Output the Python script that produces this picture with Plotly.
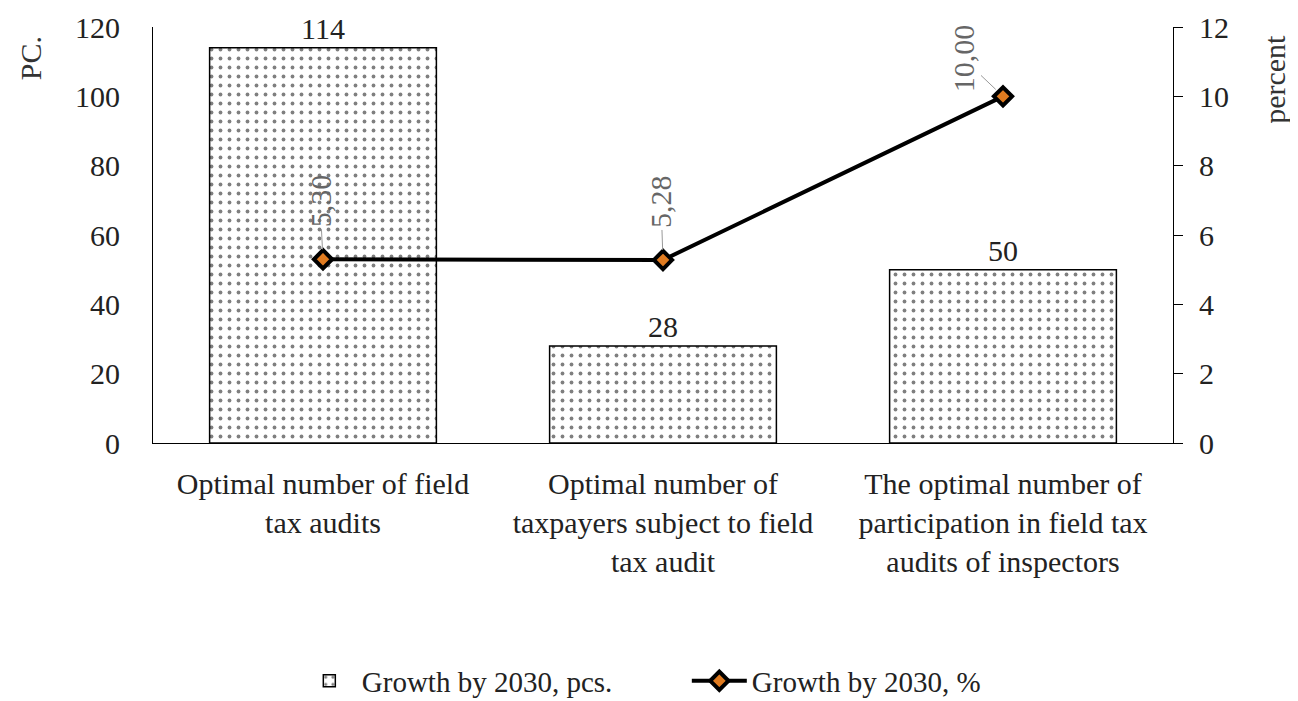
import plotly.graph_objects as go

categories = ["Optimal number of field<br>tax audits",
              "Optimal number of<br>taxpayers subject to field<br>tax audit",
              "The optimal number of<br>participation in field tax<br>audits of inspectors"]
growth_pcs = [114, 28, 50]
growth_pct = [5.30, 5.28, 10.00]
left_ticks = [0, 20, 40, 60, 80, 100, 120]
right_ticks = [0, 2, 4, 6, 8, 10, 12]

FONT = "Liberation Serif, Times New Roman, serif"
FS = 30

fig = go.Figure()
fig.add_trace(go.Bar(
    x=categories, y=growth_pcs, name="Growth by 2030, pcs.",
    width=0.667,
    marker=dict(color="white", line=dict(color="black", width=1.5),
                pattern=dict(shape=".", fgcolor="black", bgcolor="white", size=9, solidity=0.14)),
    text=[str(v) for v in growth_pcs], textposition="outside",
    textfont=dict(family=FONT, size=FS, color="#222"), cliponaxis=False,
))
fig.add_trace(go.Scatter(
    x=categories, y=growth_pct, name="Growth by 2030, %", yaxis="y2",
    mode="lines+markers",
    line=dict(color="black", width=4),
    marker=dict(symbol="diamond", size=14, color="#e07b20", line=dict(color="black", width=4)),
))

offsets = [(-3, -58), (-2, -58), (-40, -38)]
for c, v, (ax, ay) in zip(categories, growth_pct, offsets):
    fig.add_annotation(x=c, y=v, yref="y2", text=f"{v:.2f}".replace(".", ","),
                       textangle=-90, showarrow=True, arrowhead=0, arrowwidth=1,
                       arrowcolor="#999", ax=ax, ay=ay, standoff=10,
                       font=dict(family=FONT, size=FS, color="#666"))

fig.add_annotation(xref="paper", yref="paper", x=-0.1206, y=0.925, text="PC.", textangle=-90,
                   xanchor="center", yanchor="middle",
                   showarrow=False, font=dict(family=FONT, size=FS, color="#333"))
fig.add_annotation(xref="paper", yref="paper", x=1.1, y=0.873, text="percent", textangle=-90,
                   xanchor="center", yanchor="middle",
                   showarrow=False, font=dict(family=FONT, size=FS, color="#333"))

fig.update_layout(
    width=1290, height=693,
    margin=dict(l=145, r=125, t=19, b=258, autoexpand=False),
    paper_bgcolor="white", plot_bgcolor="white",
    font=dict(family=FONT, size=FS, color="#222"),
    bargap=0.333,
    xaxis=dict(showline=True, linecolor="black", linewidth=1.2, ticks="",
               ticklabelstandoff=14, automargin=False,
               tickfont=dict(family=FONT, size=FS, color="#222")),
    yaxis=dict(range=[0, 120], tickvals=left_ticks, showgrid=False, showline=True,
               linecolor="black", linewidth=1.2, ticks="", ticklabelstandoff=26,
               automargin=False,
               tickfont=dict(family=FONT, size=FS, color="#222"), zeroline=False),
    yaxis2=dict(range=[0, 12], tickvals=right_ticks, overlaying="y", side="right",
                showgrid=False, showline=True, linecolor="black", linewidth=1.2,
                ticks="outside", ticklen=9, tickcolor="black", ticklabelstandoff=10,
                automargin=False,
                tickfont=dict(family=FONT, size=FS, color="#222"), zeroline=False),
    legend=dict(orientation="h", x=0.141, xanchor="left", y=-0.572, yanchor="middle",
                itemwidth=55, entrywidth=320, entrywidthmode="pixels",
                font=dict(family=FONT, size=29, color="#222")),
    showlegend=True,
)

fig.write_html("out.html")
